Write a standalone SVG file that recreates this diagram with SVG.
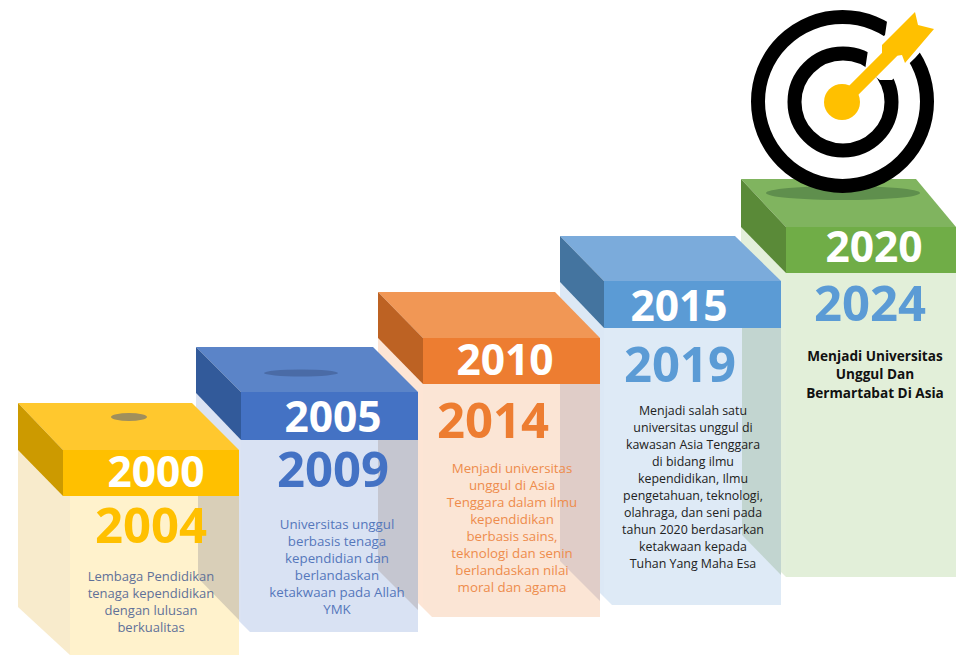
<svg xmlns="http://www.w3.org/2000/svg" width="956" height="655" viewBox="0 0 956 655">
<style>
text{font-family:"Open Sans","Noto Sans","DejaVu Sans",sans-serif;text-anchor:middle}
.cap{font-size:42.5px;font-weight:700;fill:#fff}
.yr{font-size:49px;font-weight:700}
.d{font-size:13.3px}
.d4{font-size:12.4px}
.d1{font-size:13px}
.b{font-size:13.6px;font-weight:700;fill:#111}
</style>
<rect width="956" height="655" fill="#fff"/>
<g id="connectors"></g>
<g id="box-2020">
<polygon points="741,225 786,273 786,577 741,532" fill="#e3efdb"/>
<rect x="786" y="273" width="170" height="304" fill="#e2efd9"/>
<polygon points="741,179 916,179 956,227 786,227" fill="#80b45f"/>
<polygon points="741,179 786,227 786,273 741,227" fill="#5a8a38"/>
<rect x="786" y="227" width="170" height="46" fill="#70ad47"/>
<ellipse cx="843" cy="193" rx="77" ry="7" fill="#5f8f4d"/>
<text class="cap" x="874" y="262">2020</text>
<text class="yr" x="870" y="321" fill="#5b9bd5">2024</text>
<text class="b" x="875" y="361">Menjadi Universitas</text>
<text class="b" x="875" y="379">Unggul Dan</text>
<text class="b" x="875" y="398">Bermartabat Di Asia</text>
</g>
<g id="target">
<circle cx="842.5" cy="101.5" r="84.5" fill="none" stroke="#000" stroke-width="14"/>
<circle cx="843" cy="102" r="48.5" fill="none" stroke="#000" stroke-width="14"/>
<polygon points="865,70 868,50 885,35 889,8 940,30 915,58 892,80 880,80" fill="#fff"/>
<polygon points="915,12 918,25 934,29 905,63 902,55 882,58 882,45 890,37" fill="#ffc000"/>
<line x1="842" y1="102" x2="893" y2="51" stroke="#ffc000" stroke-width="13"/>
<circle cx="842" cy="102" r="18" fill="#ffc000"/>
</g>
<g id="box-2015">
<polygon points="560,282 604,328 604,597 560,553" fill="#dce8f5"/>
<polygon points="604,328 781,328 781,605 612,605 604,597" fill="#deeaf6"/>
<polygon points="742,328 781,328 781,575 742,535" fill="#c2d5d0"/>
<polygon points="560,236 735,236 781,281 604,281" fill="#7babdb"/>
<polygon points="560,236 604,281 604,328 560,282" fill="#44749f"/>
<rect x="604" y="281" width="177" height="47" fill="#5b9bd5"/>
<text class="cap" x="679" y="321">2015</text>
<text class="yr" x="680" y="382" fill="#5b9bd5">2019</text>
<g class="d4" fill="#222">
<text x="693" y="415">Menjadi salah satu</text>
<text x="693" y="432">universitas unggul di</text>
<text x="693" y="449">kawasan Asia Tenggara</text>
<text x="693" y="466">di bidang ilmu</text>
<text x="693" y="483">kependidikan, Ilmu</text>
<text x="693" y="500">pengetahuan, teknologi,</text>
<text x="693" y="517">olahraga, dan seni pada</text>
<text x="693" y="534">tahun 2020 berdasarkan</text>
<text x="693" y="551">ketakwaan kepada</text>
<text x="693" y="568">Tuhan Yang Maha Esa</text>
</g>
</g>
<g id="box-2010">
<polygon points="378,338 423,384 423,608 378,563" fill="#fde5d5"/>
<polygon points="423,384 600,384 600,617 432,617 423,608" fill="#fbe5d5"/>
<polygon points="560,384 600,384 600,601 560,561" fill="#e0cdc8"/>
<polygon points="378,292 555,292 600,338 423,338" fill="#f19755"/>
<polygon points="378,292 423,338 423,384 378,338" fill="#bd6223"/>
<rect x="423" y="338" width="177" height="46" fill="#ed7d31"/>
<text class="cap" x="505" y="375">2010</text>
<text class="yr" x="493" y="438" fill="#ed7d31">2014</text>
<g class="d" fill="#ee8c4c">
<text x="512" y="473">Menjadi universitas</text>
<text x="512" y="490">unggul di Asia</text>
<text x="512" y="507">Tenggara dalam ilmu</text>
<text x="512" y="524">kependidikan</text>
<text x="512" y="541">berbasis sains,</text>
<text x="512" y="558">teknologi dan senin</text>
<text x="512" y="575">berlandaskan nilai</text>
<text x="512" y="592">moral dan agama</text>
</g>
</g>
<g id="box-2005">
<polygon points="196,393 241,440 241,623 196,578" fill="#dbe3f3"/>
<polygon points="241,440 418,440 418,632 250,632 241,623" fill="#d9e2f3"/>
<polygon points="378,440 418,440 418,610 378,570" fill="#c5c6d0"/>
<polygon points="196,347 373,347 418,392 241,392" fill="#5b84c8"/>
<polygon points="196,347 241,392 241,440 196,393" fill="#325a9a"/>
<rect x="241" y="392" width="177" height="48" fill="#4472c4"/>
<ellipse cx="301" cy="373" rx="37" ry="3.5" fill="#4a6ba6"/>
<text class="cap" x="333" y="432">2005</text>
<text class="yr" x="333" y="487" fill="#4472c4">2009</text>
<g class="d" fill="#5577bb">
<text x="337" y="529">Universitas unggul</text>
<text x="337" y="546">berbasis tenaga</text>
<text x="337" y="563">kependidian dan</text>
<text x="337" y="580">berlandaskan</text>
<text x="337" y="597">ketakwaan pada Allah</text>
<text x="337" y="614">YMK</text>
</g>
</g>
<g id="box-2000">
<polygon points="18,450 70,496 70,655 18,607" fill="#f8ebcc"/>
<rect x="70" y="496" width="169" height="159" fill="#fff2cc"/>
<polygon points="198,496 239,496 239,620 198,578" fill="#d9cfb8"/>
<polygon points="18,403 192,403 239,450 63,450" fill="#ffc82e"/>
<polygon points="18,403 63,450 63,496 18,450" fill="#cc9a00"/>
<rect x="63" y="450" width="176" height="46" fill="#ffc000"/>
<ellipse cx="129" cy="417" rx="18" ry="4" fill="#a08f5c"/>
<text class="cap" x="156" y="487">2000</text>
<text class="yr" x="151" y="543" fill="#ffc000">2004</text>
<g class="d1" fill="#5f7199">
<text x="151" y="581">Lembaga Pendidikan</text>
<text x="151" y="598">tenaga kependidikan</text>
<text x="151" y="615">dengan lulusan</text>
<text x="151" y="632">berkualitas</text>
</g>
</g>
</svg>
